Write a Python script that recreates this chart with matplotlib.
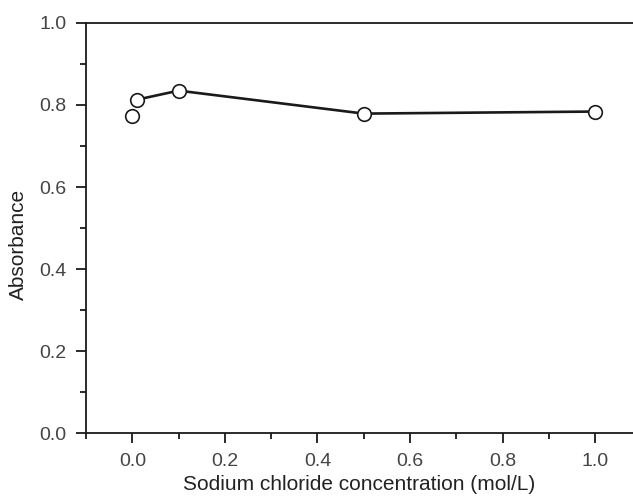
import matplotlib.pyplot as plt
from matplotlib.ticker import MultipleLocator

# NaCl concentration (mol/L) and absorbance
conc = [0.0, 0.01, 0.1, 0.5, 1.0]
absorbance = [0.773, 0.813, 0.835, 0.779, 0.784]

plt.rcParams["font.family"] = ["Liberation Sans", "DejaVu Sans"]
tick_color = "#444444"
label_color = "#222222"
ink = "#1a1a1a"

fig = plt.figure(figsize=(6.33, 4.99), dpi=100)
ax = fig.add_axes([0.136, 0.132, 0.864, 0.822])

# first point stands alone, the rest are joined
ax.plot(conc[1:], absorbance[1:], color=ink, lw=1.9, zorder=2)
ax.plot(conc, absorbance, ls="none", marker="o", ms=9.8,
        mfc="white", mec=ink, mew=1.2, zorder=3)

ax.set_xlim(-0.1, 1.082)
ax.set_ylim(0.0, 1.0)
ax.xaxis.set_major_locator(MultipleLocator(0.2))
ax.xaxis.set_minor_locator(MultipleLocator(0.1))
ax.yaxis.set_major_locator(MultipleLocator(0.2))
ax.yaxis.set_minor_locator(MultipleLocator(0.1))
ax.xaxis.set_major_formatter(lambda v, p: f"{v:.1f}")
ax.yaxis.set_major_formatter(lambda v, p: f"{v:.1f}")

ax.spines["right"].set_visible(False)
for side in ["left", "bottom", "top"]:
    ax.spines[side].set_linewidth(1.3)
    ax.spines[side].set_color(ink)

ax.tick_params(which="major", direction="out", length=7, width=1.3,
               color=ink, labelsize=14, labelcolor=tick_color, pad=7)
ax.tick_params(which="minor", direction="out", length=4, width=1.3,
               color=ink)
ax.tick_params(top=False, right=False, which="both")

ax.set_xlabel("Sodium chloride concentration (mol/L)", fontsize=15,
              color=label_color, labelpad=4)
ax.set_ylabel("Absorbance", fontsize=15, color=label_color)
ax.yaxis.set_label_coords(-0.106, 0.459)

fig.savefig("out.png", dpi=100)
